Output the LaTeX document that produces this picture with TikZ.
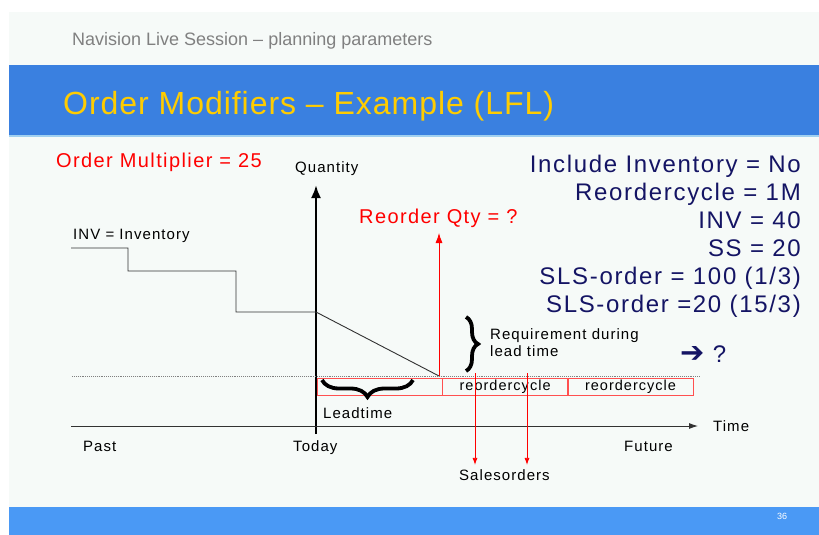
\documentclass[tikz,border=0pt]{standalone}
\usepackage{fontspec}
\setmainfont{Liberation Sans}
\newfontfamily\slidefont{Liberation Sans}[LetterSpace=7]
\newfontfamily\titlefont{Liberation Sans}[LetterSpace=3]
\newfontfamily\symbfont{DejaVu Sans}
\usetikzlibrary{positioning, decorations.pathreplacing, arrows.meta}

\definecolor{slidebg}{RGB}{246,250,248}
\definecolor{bandblue}{RGB}{58,128,224}
\definecolor{bandline}{RGB}{160,208,240}
\definecolor{footblue}{RGB}{74,153,245}
\definecolor{hdrgray}{RGB}{128,128,128}
\definecolor{ttlyellow}{RGB}{255,204,0}
\definecolor{navy}{RGB}{20,20,100}
\definecolor{boxred}{RGB}{255,80,80}
\definecolor{stockgray}{RGB}{50,50,50}

\begin{document}
\begin{tikzpicture}[x=1pt, y=-1pt,
lbl/.style={inner sep=0pt,
  anchor=base west,
  font=\slidefont\fontsize{15}{17}\selectfont
},
redlbl/.style={inner sep=0pt,
  anchor=base west,
  text=red,
  font=\slidefont\fontsize{20}{23}\selectfont
},
param/.style={inner sep=0pt,
  anchor=base east,
  text=navy,
  font=\slidefont\fontsize{24}{28}\selectfont
},
cell/.style={rectangle,
  draw=boxred,
  minimum width=125pt,
  minimum height=17pt,
  inner sep=0pt,
  font=\slidefont\fontsize{14.5}{17}\selectfont
},
redarrow/.style={-{Latex[length=7pt, width=5pt]}, red, line width=0.8pt},
bigbrace/.style={decorate,
  decoration={brace, amplitude=#1},
  line width=3.8pt
},
>=latex
]

% slide background and bands
\useasboundingbox (0,0) rectangle (819,535);
\fill[white] (0,0) rectangle (819,535);
\fill[slidebg] (9,12) rectangle (819,535);
\fill[bandblue] (9,65) rectangle (819,135);
\fill[bandline] (9,135) rectangle (819,137);
\fill[footblue] (9,507) rectangle (819,535);

\node[inner sep=0pt, anchor=base west, text=hdrgray, font=\fontsize{18}{21}\selectfont] (hdr) at (72,46)
    {Navision Live Session – planning parameters};
\node[inner sep=0pt, anchor=base west, text=ttlyellow, font=\titlefont\fontsize{32}{38}\selectfont] (ttl) at (63,114)
    {Order Modifiers – Example (LFL)};
\node[inner sep=0pt, anchor=base west, text=white, font=\fontsize{9}{11}\selectfont] (pg) at (777,519)
    {36};

% parameters
\node[redlbl] (mult) at (56,167)
    {Order Multiplier = 25};
\node[param] (incl) at (801,172)
    {Include Inventory = No};
\node[param] (cycle) at (801,200)
    {Reordercycle = 1M};
\node[param] (inv) at (801,228)
    {INV = 40};
\node[param] (ss) at (801,256)
    {SS = 20};
\node[param] (slsA) at (801,284)
    {SLS-order = 100 (1/3)};
\node[param] (slsB) at (801,312)
    {SLS-order =20 (15/3)};
\node[param, anchor=base west] (ask) at (680,362)
    {{\symbfont\bfseries\fontsize{29}{30}\selectfont ➔} ?};

% axes
\coordinate (ybot) at (316,434);
\coordinate (ytop) at (316,185);
\coordinate (xleft) at (71,426);
\coordinate (xright) at (698,426);
\draw[-{Latex[length=13pt, width=10pt]}, line width=2.4pt] (ybot) -- (ytop);
\draw[-{Latex[length=9pt, width=6pt]}, stockgray, line width=0.9pt] (xleft) -- (xright);
\draw[gray, densely dotted, line width=0.9pt] (72,376) -- (700,376);

\node[lbl] (qlab) at (295,172)
    {Quantity};
\node[lbl] (tlab) at (713,431)
    {Time};
\node[lbl] (past) at (83,451)
    {Past};
\node[lbl] (today) at (293,451)
    {Today};
\node[lbl] (future) at (624,451)
    {Future};

% inventory
\coordinate (now) at (316,312);
\coordinate (reorder) at (439,376);
\draw[stockgray, line width=0.9pt] (71,248) -- (128,248) -- (128,271) -- (236,271) -- (236,312) -- (now) -- (reorder);
\node[lbl] (invlab) at (73,239)
    {INV = Inventory};

% reorder quantity
\coordinate (rqtop) at (439,233);
\draw[redarrow, -{Latex[length=10pt, width=7pt]}] (reorder) -- (rqtop);
\node[redlbl] (rqlab) at (359,223)
    {Reorder Qty = ?};

% requirement during lead time
\coordinate (reqT) at (466,317);
\coordinate (reqB) at (466,371);
\draw[bigbrace=12pt] (reqT) -- (reqB);
\node[lbl, anchor=north west, align=left] (reqlab) at (490,328)
    {Requirement during\\lead time};

% cycles
\node[cell, anchor=north west] (lead) at (317,378)
    {};
\node[cell, right=0pt of lead] (cycA)
    {reordercycle};
\node[cell, right=0pt of cycA] (cycB)
    {reordercycle};

\coordinate (leadR) at (413,380);
\coordinate (leadL) at (322,380);
\draw[bigbrace=17pt] (leadR) -- (leadL);
\node[lbl] (ltlab) at (323,418)
    {Leadtime};

% sales orders
\node[lbl] (so) at (459,480)
    {Salesorders};
\coordinate (soA) at (475,373);
\coordinate (soB) at (527,373);
\draw[redarrow, shorten >=4pt] (soA) -- (soA |- so.north);
\draw[redarrow, shorten >=4pt] (soB) -- (soB |- so.north);
\end{tikzpicture}
\end{document}
